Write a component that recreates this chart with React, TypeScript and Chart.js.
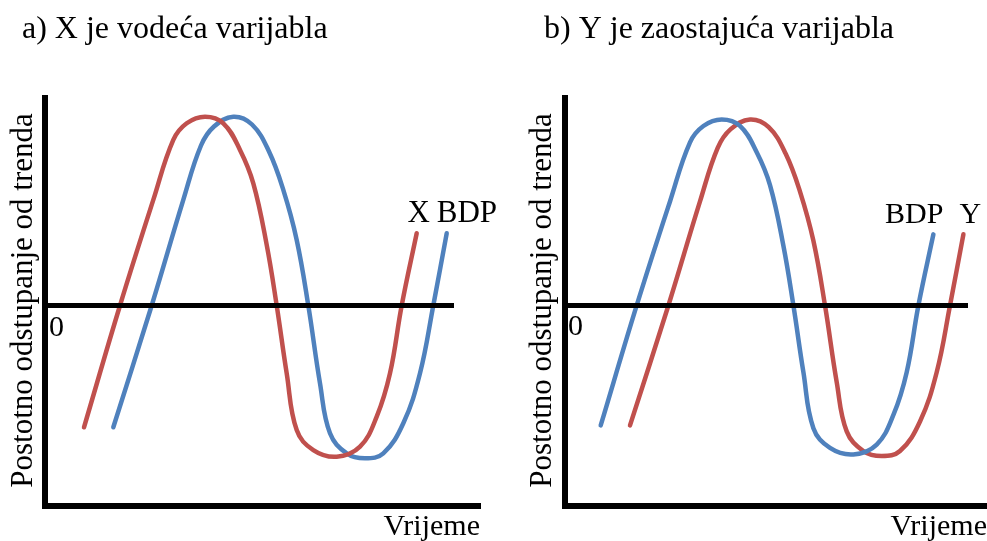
import React, { useEffect, useRef } from "react";
import { Chart, registerables } from "chart.js";

Chart.register(...registerables);

// Time (horizontal) and deviation-from-trend (vertical) values
const leadingTime = [3.9, 7.5, 10.83, 12.83, 14.17, 16.0, 17.83, 19.5, 20.83, 22.17, 23.17, 24.17, 25.17, 26.83, 29.17, 31.5, 33.17, 34.5, 35.67, 37.17];
const leadingValue = [-6.09, 0, 5.28, 8.28, 9.11, 9.44, 9.11, 7.78, 6.11, 3.03, 0, -3.39, -6.23, -7.23, -7.56, -7.06, -5.56, -3.39, 0, 3.61];

const laggingTime = [6.83, 10.67, 13.83, 15.6, 16.9, 18.83, 20.7, 22.4, 23.83, 25.17, 26.33, 27.5, 28.5, 30.17, 32.0, 33.83, 35.83, 37.5, 38.83, 40.17];
const laggingValue = [-6.09, 0, 5.28, 8.0, 8.95, 9.44, 9.05, 7.7, 5.78, 3.28, 0, -3.89, -6.39, -7.39, -7.64, -7.39, -5.89, -3.39, 0, 3.61];

const zeroTimes = [0, 40.9];
const zeroTimesB = [0, 40.63];
const zeroValues = [0, 0];

const panelTitles = ["a) X je vodeća varijabla", "b) Y je zaostajuća varijabla"];
const yAxisTitle = "Postotno odstupanje od trenda";
const xAxisTitle = "Vrijeme";
const zeroLabel = "0";
const seriesNamesA = ["X", "BDP"]; // leading, lagging
const seriesNamesB = ["BDP", "Y"]; // leading, lagging

const RED = "#C0504D";
const BLUE = "#4F81BD";
const FONT = '"Liberation Serif", "Times New Roman", serif';

type Panel = {
  left: number;
  width: number;
  padding: { left: number; top: number; right: number; bottom: number };
  xMin: number;
  xMax: number;
  yMin: number;
  yMax: number;
  zero: number[];
  leadColor: string;
  lagColor: string;
  title: string;
  titleX: number;
  yTitleX: number;
  zeroX: number;
  xTitleRight: number;
  names: string[];
  variant: "a" | "b";
};

const panels: Panel[] = [
  {
    left: 0,
    width: 500,
    padding: { left: 45, top: 98, right: 20, bottom: 35 },
    xMin: 0,
    xMax: 43.5,
    yMin: -10.025,
    yMax: 10.375,
    zero: zeroTimes,
    leadColor: RED,
    lagColor: BLUE,
    title: panelTitles[0],
    titleX: 22,
    yTitleX: 32,
    zeroX: 49,
    xTitleRight: 480,
    names: seriesNamesA,
    variant: "a",
  },
  {
    left: 500,
    width: 487,
    padding: { left: 65, top: 98, right: 0, bottom: 35 },
    xMin: 0.33,
    xMax: 42.53,
    yMin: -10.18,
    yMax: 10.53,
    zero: zeroTimesB,
    leadColor: BLUE,
    lagColor: RED,
    title: panelTitles[1],
    titleX: 44,
    yTitleX: 51,
    zeroX: 68,
    xTitleRight: 487,
    names: seriesNamesB,
    variant: "b",
  },
];

function textPlugin(p: Panel) {
  return {
    id: "panelText" + p.variant,
    afterDraw(chart: any) {
      const ctx = chart.ctx as CanvasRenderingContext2D;
      const xs = chart.scales.x;
      const ys = chart.scales.y;
      ctx.save();
      ctx.fillStyle = "#000";
      ctx.textBaseline = "alphabetic";

      // panel title
      ctx.font = `32px ${FONT}`;
      ctx.textAlign = "left";
      ctx.fillText(p.title, p.titleX, 38);

      // y axis title
      ctx.save();
      ctx.font = `31px ${FONT}`;
      ctx.translate(p.yTitleX, 300.5);
      ctx.rotate(-Math.PI / 2);
      ctx.textAlign = "center";
      ctx.fillText(yAxisTitle, 0, 0);
      ctx.restore();

      // zero label
      ctx.font = `30px ${FONT}`;
      ctx.textAlign = "left";
      ctx.fillText(zeroLabel, p.zeroX, ys.getPixelForValue(0) + 30);

      // x axis title
      ctx.textAlign = "right";
      ctx.fillText(xAxisTitle, p.xTitleRight, 535);

      // series labels near curve ends
      const nL = leadingTime.length - 1;
      const nG = laggingTime.length - 1;
      const leadEndX = xs.getPixelForValue(leadingTime[nL]);
      const lagEndX = xs.getPixelForValue(laggingTime[nG]);
      const labelY = ys.getPixelForValue(leadingValue[nL]) - 11;
      ctx.font = `31px ${FONT}`;
      if (p.variant === "a") {
        ctx.textAlign = "center";
        ctx.fillText(p.names[0], leadEndX + 2, labelY);
        ctx.textAlign = "left";
        ctx.fillText(p.names[1], lagEndX - 10, labelY);
      } else {
        ctx.font = `30px ${FONT}`;
        ctx.textAlign = "right";
        ctx.fillText(p.names[0], leadEndX + 10, labelY);
        ctx.textAlign = "center";
        ctx.fillText(p.names[1], lagEndX + 7, labelY);
      }
      ctx.restore();
    },
  };
}

function PanelChart({ p }: { p: Panel }) {
  const ref = useRef<HTMLCanvasElement | null>(null);
  useEffect(() => {
    if (!ref.current) return;
    const lead = leadingTime.map((x, i) => ({ x, y: leadingValue[i] }));
    const lag = laggingTime.map((x, i) => ({ x, y: laggingValue[i] }));
    const zero = p.zero.map((x, i) => ({ x, y: zeroValues[i] }));
    const axisBorder = { display: true, color: "#000", width: 6 };
    const chart = new Chart(ref.current, {
      type: "line",
      data: {
        datasets: [
          {
            data: zero,
            borderColor: "#000",
            borderWidth: 5,
            pointRadius: 0,
            tension: 0,
          },
          {
            data: lead,
            borderColor: p.leadColor,
            borderWidth: 4.5,
            pointRadius: 0,
            tension: 0.4,
            borderCapStyle: "round",
            borderJoinStyle: "round",
          },
          {
            data: lag,
            borderColor: p.lagColor,
            borderWidth: 4.5,
            pointRadius: 0,
            tension: 0.4,
            borderCapStyle: "round",
            borderJoinStyle: "round",
          },
        ],
      },
      options: {
        responsive: false,
        animation: false,
        events: [],
        layout: { padding: p.padding },
        plugins: { legend: { display: false }, tooltip: { enabled: false } },
        scales: {
          x: {
            type: "linear",
            min: p.xMin,
            max: p.xMax,
            grid: { display: false, drawTicks: false },
            ticks: { display: false },
            border: axisBorder,
          },
          y: {
            type: "linear",
            min: p.yMin,
            max: p.yMax,
            grid: { display: false, drawTicks: false },
            ticks: { display: false },
            border: axisBorder,
          },
        },
      },
      plugins: [textPlugin(p)],
    } as any);
    return () => chart.destroy();
  }, [p]);
  return (
    <canvas
      ref={ref}
      width={p.width}
      height={541}
      style={{ position: "absolute", left: p.left, top: 0, width: p.width, height: 541 }}
    />
  );
}

export default function App() {
  return (
    <div
      style={{
        position: "absolute",
        left: 0,
        top: 0,
        width: 987,
        height: 541,
        background: "#fff",
        overflow: "hidden",
      }}
    >
      {panels.map((p) => (
        <PanelChart key={p.variant} p={p} />
      ))}
    </div>
  );
}
